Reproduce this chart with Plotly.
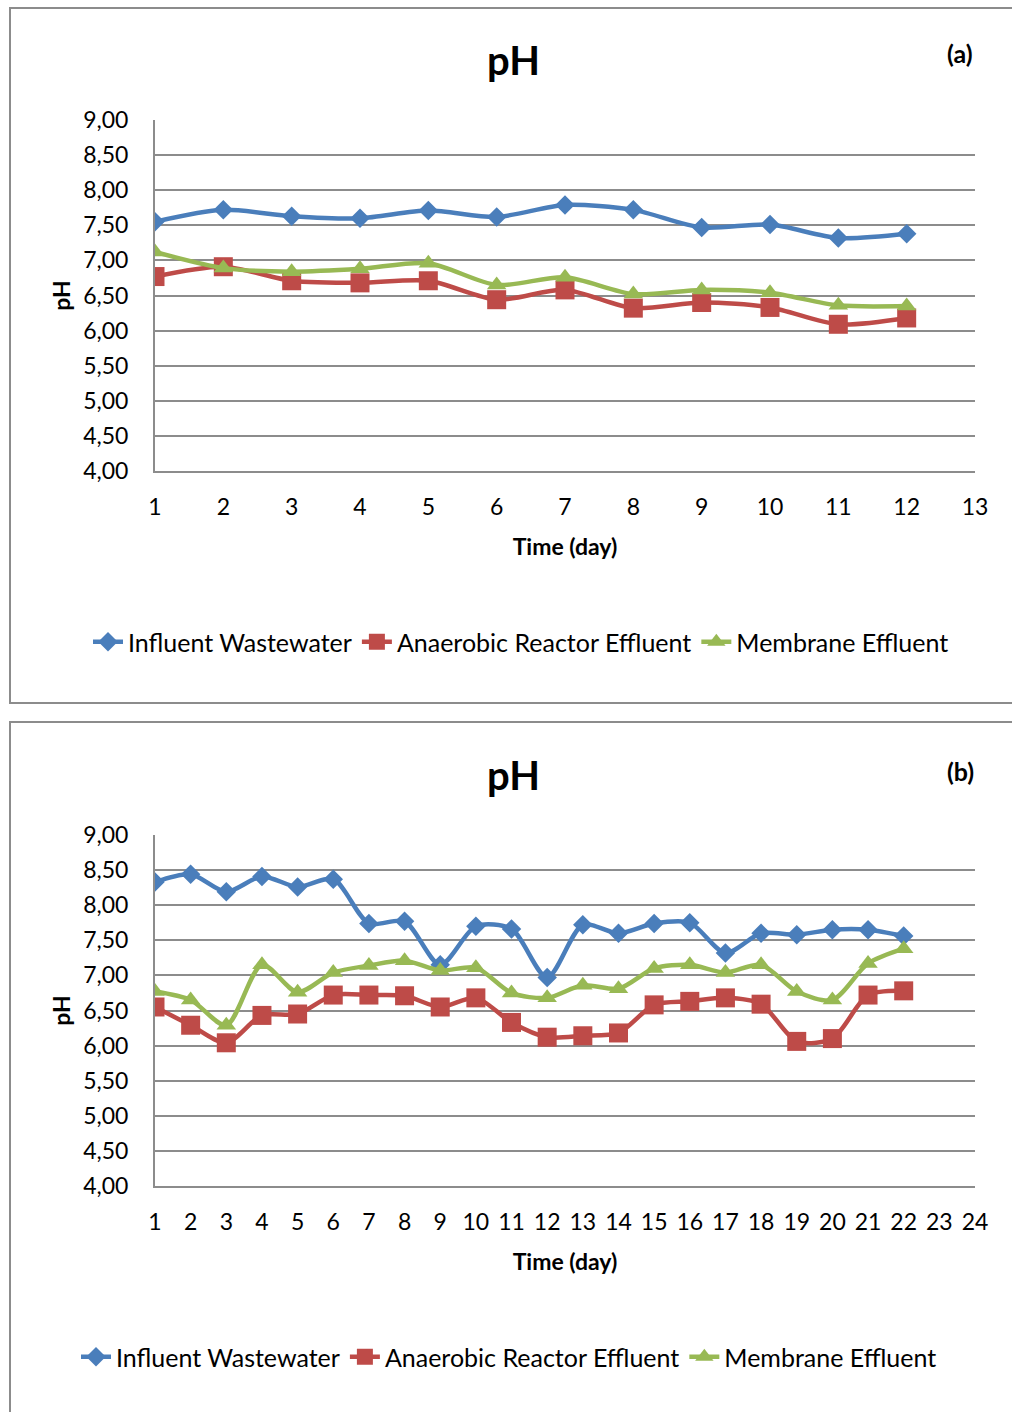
import plotly.graph_objects as go

# ---------------- data ----------------
days_a = list(range(1, 13))
influent_a = [7.55, 7.72, 7.63, 7.60, 7.71, 7.62, 7.79, 7.72, 7.47, 7.51, 7.32, 7.38]
anaerobic_a = [6.77, 6.91, 6.71, 6.68, 6.71, 6.44, 6.58, 6.32, 6.40, 6.33, 6.09, 6.18]
membrane_a = [7.12, 6.89, 6.84, 6.88, 6.96, 6.65, 6.76, 6.52, 6.58, 6.54, 6.36, 6.35]

days_b = list(range(1, 23))
influent_b = [8.33, 8.44, 8.19, 8.41, 8.26, 8.37, 7.74, 7.77, 7.15, 7.70, 7.66, 6.97,
              7.72, 7.60, 7.74, 7.75, 7.32, 7.60, 7.58, 7.65, 7.65, 7.56]
anaerobic_b = [6.55, 6.29, 6.04, 6.43, 6.45, 6.72, 6.72, 6.71, 6.55, 6.68, 6.33, 6.12,
               6.14, 6.18, 6.58, 6.63, 6.68, 6.59, 6.06, 6.10, 6.72, 6.78]
membrane_b = [6.77, 6.65, 6.29, 7.15, 6.76, 7.04, 7.14, 7.21, 7.07, 7.11, 6.75, 6.68,
              6.86, 6.81, 7.10, 7.15, 7.04, 7.15, 6.77, 6.65, 7.17, 7.38]

series_names = ["Influent Wastewater", "Anaerobic Reactor Effluent", "Membrane Effluent"]
y_ticks = [4.0, 4.5, 5.0, 5.5, 6.0, 6.5, 7.0, 7.5, 8.0, 8.5, 9.0]
y_ticktext = [f"{v:.2f}".replace(".", ",") for v in y_ticks]

# ---------------- style ----------------
W, H = 1012, 1412
FONT = "Lato"
colors = ["#4A7EBB", "#BE4B48", "#98B954"]
symbols = ["diamond", "square", "triangle-up"]
msizes = [15, 19, 17]
GRID = "#8C8C8C"


def px(x):
    return x / W


def py(y):
    return 1 - y / H


fig = go.Figure()

panels = [
    dict(days=days_a, data=[influent_a, anaerobic_a, membrane_a], xa="x", ya="y",
         legend="legend"),
    dict(days=days_b, data=[influent_b, anaerobic_b, membrane_b], xa="x2", ya="y2",
         legend="legend2"),
]

for p in panels:
    for name, vals, c, s, ms in zip(series_names, p["data"], colors, symbols, msizes):
        fig.add_trace(go.Scatter(
            x=p["days"], y=vals, name=name, mode="lines+markers",
            line=dict(color=c, width=4.5, shape="spline", smoothing=0.8),
            marker=dict(symbol=s, size=ms, color=c),
            xaxis=p["xa"], yaxis=p["ya"], legend=p["legend"],
        ))

axis_common_x = dict(
    showgrid=False, showline=True, linecolor=GRID, linewidth=2,
    ticks="", dtick=1, tick0=1, zeroline=False, automargin=False,
    tickfont=dict(family=FONT, size=23, color="#000"),
    ticklabelstandoff=14,
    title=dict(text="<b>Time (day)</b>", font=dict(family=FONT, size=23, color="#000"), standoff=20),
)
axis_common_y = dict(
    range=[4, 9], tickvals=y_ticks, ticktext=y_ticktext,
    showgrid=True, gridcolor=GRID, gridwidth=1.5,
    showline=True, linecolor=GRID, linewidth=2, ticks="", zeroline=False, automargin=False,
    tickfont=dict(family=FONT, size=23, color="#000"),
    ticklabelstandoff=20,
    title=dict(text="<b>pH</b>", font=dict(family=FONT, size=23, color="#000"), standoff=6),
)

legend_common = dict(orientation="h", xanchor="center", yanchor="middle",
                     font=dict(family=FONT, size=25, color="#000"), bgcolor="rgba(0,0,0,0)",
                     itemwidth=30, tracegroupgap=0)

fig.update_layout(
    width=W, height=H, margin=dict(l=0, r=0, t=0, b=0, autoexpand=False),
    paper_bgcolor="white", plot_bgcolor="white",
    font=dict(family=FONT, color="#000"),
    xaxis=dict(axis_common_x, domain=[px(155), px(975)], range=[1, 13], anchor="y"),
    yaxis=dict(axis_common_y, domain=[py(471), py(120)], anchor="x"),
    xaxis2=dict(axis_common_x, domain=[px(155), px(975)], range=[1, 24], anchor="y2"),
    yaxis2=dict(axis_common_y, domain=[py(1186), py(835)], anchor="x2"),
    legend=dict(legend_common, x=px(521), y=py(642)),
    legend2=dict(legend_common, x=px(509), y=py(1357)),
    showlegend=True,
)

# panel borders
for top, bottom in [(8, 703), (722, 1420)]:
    fig.add_shape(type="rect", xref="paper", yref="paper",
                  x0=px(10), x1=px(1020), y0=py(bottom), y1=py(top),
                  line=dict(color="#8C8C8C", width=2), fillcolor="rgba(0,0,0,0)")

# titles and panel labels
for ytitle, ylab, lab in [(60, 53, "(a)"), (775, 771, "(b)")]:
    fig.add_annotation(text="<b>pH</b>", xref="paper", yref="paper", x=px(513), y=py(ytitle),
                       xanchor="center", yanchor="middle", showarrow=False,
                       font=dict(family=FONT, size=40, color="#000"))
    fig.add_annotation(text=f"<b>{lab}</b>", xref="paper", yref="paper", x=px(960), y=py(ylab),
                       xanchor="center", yanchor="middle", showarrow=False,
                       font=dict(family=FONT, size=25, color="#000"))

fig.write_html("out.html")
